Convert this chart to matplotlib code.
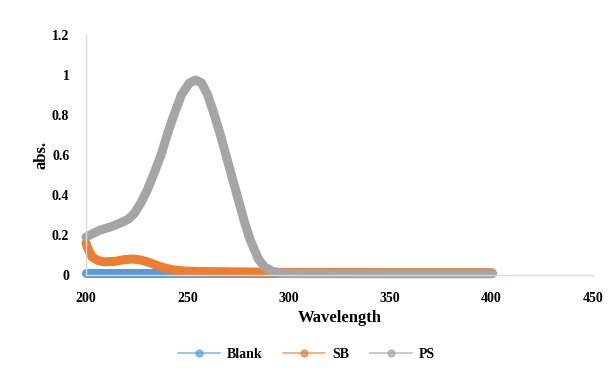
import matplotlib
matplotlib.use("Agg")
import matplotlib.pyplot as plt
from matplotlib.lines import Line2D

# wavelength (nm) / absorbance
blank_x = [200, 250, 300, 350, 400]
blank_y = [0.012, 0.012, 0.012, 0.012, 0.012]

sb_x = [200, 201, 203, 206, 209, 214, 219, 223, 227, 231, 235, 239, 244, 250, 260, 280, 300, 350, 400]
sb_y = [0.16, 0.13, 0.09, 0.072, 0.066, 0.068, 0.077, 0.08, 0.075, 0.063, 0.048, 0.034, 0.024, 0.019, 0.017, 0.015, 0.013, 0.012, 0.012]

ps_x = [200, 207, 212, 217, 221, 224, 227, 230, 234, 237, 240, 243, 247, 251, 254, 257, 260, 263, 266, 269, 272, 275, 278, 281, 285, 288, 292, 296, 300, 350, 400]
ps_y = [0.19, 0.225, 0.24, 0.26, 0.28, 0.31, 0.36, 0.42, 0.52, 0.6, 0.7, 0.79, 0.9, 0.96, 0.975, 0.96, 0.9, 0.81, 0.71, 0.6, 0.49, 0.38, 0.27, 0.175, 0.08, 0.04, 0.018, 0.01, 0.007, 0.006, 0.006]

series = [("Blank", blank_x, blank_y, "#5b9bd5"),
          ("SB", sb_x, sb_y, "#ed7d31"),
          ("PS", ps_x, ps_y, "#a5a5a5")]

plt.rcParams['font.family'] = ['Liberation Serif', 'DejaVu Serif']
plt.rcParams['font.weight'] = 'bold'

fig = plt.figure(figsize=(6.13, 3.78), dpi=100)
ax = fig.add_axes([86 / 613, 1 - 275 / 378, (593 - 86) / 613, (275 - 35) / 378])

handles = []
for name, xs, ys, c in series:
    ax.plot(xs, ys, color=c, lw=6.5, solid_capstyle='round', solid_joinstyle='round',
            clip_on=False)
    handles.append(Line2D([0], [0], color=c, lw=1.2, alpha=0.7, marker='o',
                          markersize=5, markerfacecolor=c, markeredgecolor=c, label=name))

ax.set_xlim(200, 450)
ax.set_ylim(0, 1.2)
ax.set_xticks([200, 250, 300, 350, 400, 450])
ax.set_yticks([0, 0.2, 0.4, 0.6, 0.8, 1.0, 1.2])
ax.set_yticklabels(["0", "0.2", "0.4", "0.6", "0.8", "1", "1.2"])
ax.tick_params(axis='x', length=0, labelsize=10, pad=12)
ax.tick_params(axis='y', length=0, labelsize=10, pad=12)
for lab in ax.get_xticklabels() + ax.get_yticklabels():
    lab.set_fontweight('bold')

for s in ['top', 'right']:
    ax.spines[s].set_visible(False)
for s in ['left', 'bottom']:
    ax.spines[s].set_color('#d9d9d9')
    ax.spines[s].set_linewidth(1)

ax.set_xlabel("Wavelength", fontsize=12, fontweight='bold', labelpad=4)
ax.set_ylabel("abs.", fontsize=12, fontweight='bold', labelpad=2)

fig.legend(handles=handles, loc='center', bbox_to_anchor=(0.5, 1 - 354 / 378), ncol=3,
           frameon=False, handlelength=3, columnspacing=1.5, handletextpad=0.5,
           prop={'weight': 'bold', 'size': 10})

fig.savefig("out.png", dpi=100)
